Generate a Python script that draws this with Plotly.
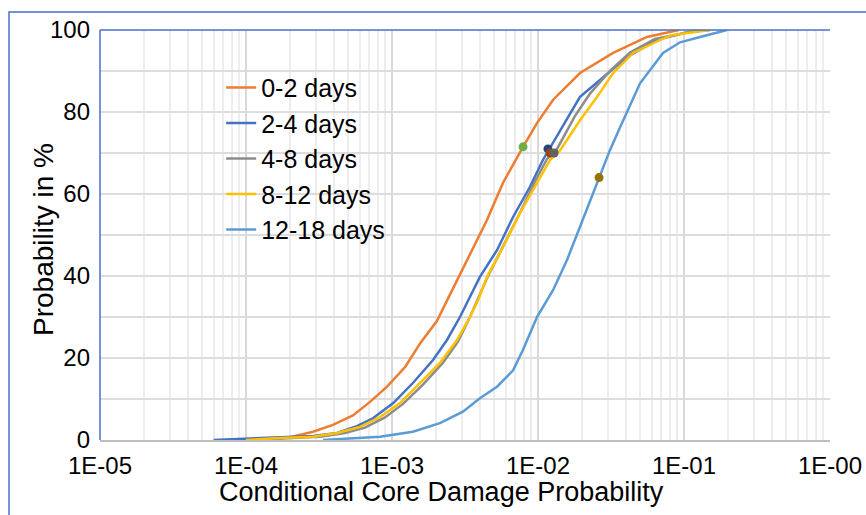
import plotly.graph_objects as go

# ---- data ----
series_names = ["0-2 days", "2-4 days", "4-8 days", "8-12 days", "12-18 days"]
series_colors = ["#ED7D31", "#4472C4", "#8C8C8C", "#FFC000", "#5B9BD5"]

x_0_2 = [1.5e-4, 2.0e-4, 2.88e-4, 3.94e-4, 5.4e-4, 7.07e-4, 9.25e-4, 1.23e-3, 1.56e-3,
         2.03e-3, 2.38e-3, 3.27e-3, 4.48e-3, 5.75e-3, 7.18e-3, 7.9e-3, 9.84e-3, 1.27e-2,
         1.94e-2, 3.27e-2, 5.58e-2, 8.4e-2, 9.2e-2]
y_0_2 = [0, 0.7, 2, 3.7, 6, 9.3, 13, 17.8, 23.6, 29, 34, 43.9, 53.7, 62.7, 69, 71.5,
         77.3, 83, 89.5, 94.4, 98.3, 99.8, 100]

x_2_4 = [6.0e-5, 1.02e-4, 1.71e-4, 2.88e-4, 4.2e-4, 5.75e-4, 7.4e-4, 1.02e-3, 1.39e-3,
         1.91e-3, 2.38e-3, 2.92e-3, 4.0e-3, 5.24e-3, 6.75e-3, 8.8e-3, 1.08e-2, 1.42e-2,
         1.94e-2, 2.66e-2, 4.07e-2, 6.5e-2, 0.11, 0.15]
y_2_4 = [0, 0.3, 0.7, 1, 1.7, 3.4, 5.3, 9, 13.9, 19.5, 24.4, 30, 39.8, 46.3, 54.4, 61.7,
         68.3, 75.6, 83.7, 87.8, 93.4, 97.6, 99.6, 100]

x_4_8 = [1.06e-4, 2.0e-4, 3.21e-4, 4.76e-4, 6.53e-4, 8.95e-4, 1.19e-3, 1.63e-3, 2.23e-3,
         2.83e-3, 3.42e-3, 4.48e-3, 5.75e-3, 7.54e-3, 9.52e-3, 1.15e-2, 1.35e-2, 1.79e-2,
         2.27e-2, 3.11e-2, 4.27e-2, 6.32e-2, 0.11, 0.139]
y_4_8 = [0, 0.5, 0.8, 1.7, 3, 5.5, 8.8, 13.5, 18.8, 24, 30, 39.5, 47, 55.5, 63, 68.5, 71,
         79, 84.5, 90, 94.5, 97.8, 99.5, 100]

x_8_12 = [1.0e-4, 1.71e-4, 2.88e-4, 4.2e-4, 6.04e-4, 8.28e-4, 1.135e-3, 1.56e-3, 2.13e-3,
          2.79e-3, 3.42e-3, 3.88e-3, 4.48e-3, 5.75e-3, 7.54e-3, 9.84e-3, 1.21e-2, 1.42e-2,
          1.94e-2, 2.54e-2, 3.27e-2, 4.48e-2, 6.86e-2, 8.4e-2, 0.15]
y_8_12 = [0, 0.5, 0.8, 1.7, 3.2, 5.6, 9, 13.9, 18.8, 24.4, 30, 34, 39.8, 47, 55.4, 62.7,
          68.3, 70.7, 78, 83.7, 89.5, 94.4, 97.6, 98.8, 100]

x_12_18 = [3.37e-4, 4.92e-4, 8.28e-4, 1.39e-3, 2.13e-3, 3.06e-3, 4.0e-3, 5.24e-3, 6.75e-3,
           7.9e-3, 9.84e-3, 1.27e-2, 1.58e-2, 1.94e-2, 2.38e-2, 3.11e-2, 3.65e-2,
           5.0e-2, 7.18e-2, 9.4e-2, 0.129, 0.197]
y_12_18 = [0, 0.3, 0.8, 2, 4.1, 6.9, 10.2, 13, 17, 22, 30, 36.6, 43.9, 52, 60.2,
           70.7, 76.3, 87, 94.4, 97, 98.3, 100]

marker_x = [7.9e-3, 1.17e-2, 1.21e-2, 1.29e-2, 2.62e-2]
marker_y = [71.5, 71, 70, 70, 64]
marker_colors = ["#70AD47", "#264478", "#9E480E", "#636363", "#997300"]

x_tickvals = [1e-5, 1e-4, 1e-3, 1e-2, 1e-1, 1]
x_ticktext = ["1E-05", "1E-04", "1E-03", "1E-02", "1E-01", "1E-00"]
y_tickvals = [0, 20, 40, 60, 80, 100]

x_title = "Conditional Core Damage Probability"
y_title = "Probability in %"

xs = [x_0_2, x_2_4, x_4_8, x_8_12, x_12_18]
ys = [y_0_2, y_2_4, y_4_8, y_8_12, y_12_18]

FONT = "Liberation Sans, Arial, sans-serif"

fig = go.Figure()
for i, (name, color, x, y) in enumerate(zip(series_names, series_colors, xs, ys)):
    fig.add_trace(go.Scatter(x=x, y=y, mode="lines", name=name,
                             line=dict(color=color, width=2.5),
                             legendgroup=f"g{i}"))
for mx, my, mc in zip(marker_x, marker_y, marker_colors):
    fig.add_trace(go.Scatter(x=[mx], y=[my], mode="markers", showlegend=False,
                             marker=dict(color=mc, size=9)))

fig.update_layout(
    width=866, height=515,
    margin=dict(l=100, r=36, t=30, b=75, autoexpand=False),
    paper_bgcolor="white", plot_bgcolor="white",
    font=dict(family=FONT, color="black", size=24),
    legend=dict(x=0.166, y=0.915, xanchor="left", yanchor="top",
                bgcolor="rgba(0,0,0,0)", font=dict(size=25),
                tracegroupgap=0),
    annotations=[
        dict(text=y_title, xref="paper", yref="paper",
             x=(43 - 100) / 730, y=(440 - 240) / 410,
             xanchor="center", yanchor="middle", textangle=-90,
             showarrow=False, font=dict(size=28)),
        dict(text=x_title, xref="paper", yref="paper",
             x=(441 - 100) / 730, y=(440 - 492) / 410,
             xanchor="center", yanchor="middle",
             showarrow=False, font=dict(size=27)),
    ],
    shapes=[
        # white legend panel (between grid and traces)
        dict(type="rect", xref="paper", yref="paper", layer="between",
             x0=(193 - 100) / 730, x1=(398 - 100) / 730,
             y0=(440 - 332) / 410, y1=(440 - 55) / 410,
             fillcolor="white", line=dict(width=0)),
        # plot area top / left border
        dict(type="line", xref="paper", yref="paper", x0=0, x1=1, y0=1, y1=1,
             line=dict(color="#4472C4", width=1.5)),
        dict(type="line", xref="paper", yref="paper", x0=0, x1=0, y0=0, y1=1,
             line=dict(color="#4472C4", width=1.5)),
        # outer frame
        dict(type="rect", xref="paper", yref="paper",
             x0=(9 - 100) / 730, x1=(880 - 100) / 730,
             y0=(440 - 530) / 410, y1=(440 - 12) / 410,
             line=dict(color="#4472C4", width=1.5), fillcolor="rgba(0,0,0,0)"),
    ],
)

fig.update_xaxes(
    type="log", range=[-5, 0], automargin=False,
    tickvals=x_tickvals, ticktext=x_ticktext,
    showgrid=True, gridcolor="#D9D9D9", gridwidth=1.5,
    minor=dict(dtick="D1", showgrid=True, gridcolor="#EDEDED", gridwidth=1.5),
    showline=True, linecolor="#BFBFBF", linewidth=1.5,
    ticks="", zeroline=False, ticklabelstandoff=3,
)
fig.update_yaxes(
    range=[0, 100], tickvals=y_tickvals, automargin=False,
    showgrid=True, gridcolor="#DDDDDD", gridwidth=1.5,
    minor=dict(dtick=10, showgrid=True, gridcolor="#DDDDDD", gridwidth=1.5),
    showline=False, ticks="", zeroline=False, ticklabelstandoff=9,
)

fig.write_html("out.html", config={"displayModeBar": False},
               post_script="document.body.style.margin='0';")
